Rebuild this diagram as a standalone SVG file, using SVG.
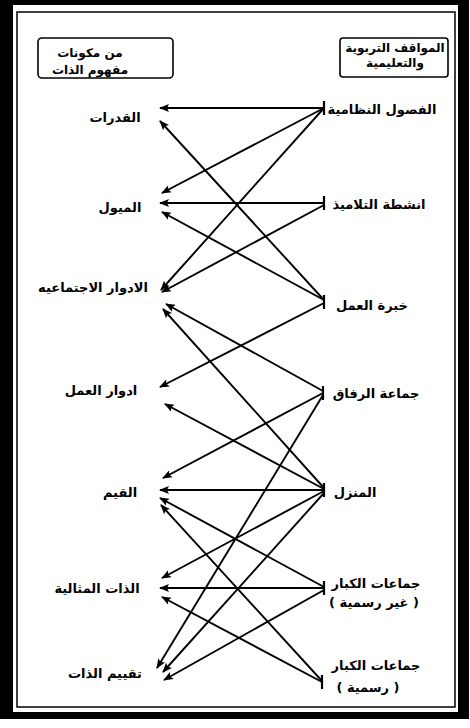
<svg xmlns="http://www.w3.org/2000/svg" width="470" height="728" viewBox="0 0 470 728">
<defs>
<marker id="ah" viewBox="0 0 10 8" refX="9" refY="4" markerWidth="5.5" markerHeight="4.2" orient="auto" markerUnits="strokeWidth">
<path d="M0,0 L10,4 L0,8 L2,4 z" fill="#000"/>
</marker>
<style>
.lbl{font-family:"DejaVu Sans",sans-serif;font-size:13px;font-weight:bold;fill:#000;text-anchor:middle;direction:rtl;unicode-bidi:embed}
.hdr{font-family:"DejaVu Sans",sans-serif;font-size:12px;font-weight:bold;fill:#000;text-anchor:middle;direction:rtl;unicode-bidi:embed}
.box{fill:#fff;stroke:#000;stroke-width:1.6}
.tick{stroke:#000;stroke-width:2.2}
#connectors line{stroke:#000;stroke-width:1.9;marker-end:url(#ah)}
</style>
</defs>
<rect x="0" y="0" width="470" height="728" fill="#fff"/>
<path d="M0,0 H469 V719 H0 Z M13,5 V712 H458 V5 Z" fill="#000" fill-rule="evenodd"/>
<rect x="17" y="12" width="438" height="695" fill="none" stroke="#000" stroke-width="1.5"/>

<g id="hdr-left">
<rect class="box" x="38" y="38" width="135" height="40" rx="4"/>
<text class="hdr" x="90" y="57">من مكونات</text>
<text class="hdr" x="90" y="74">مفهوم الذات</text>
</g>
<g id="hdr-right">
<rect class="box" x="340" y="38" width="108" height="39" rx="3"/>
<text class="hdr" x="395" y="52">المواقف التربوية</text>
<text class="hdr" x="395" y="67">والتعليمية</text>
</g>

<g id="connectors">
<line x1="324" y1="108" x2="160" y2="108"/>
<line x1="324" y1="108" x2="162" y2="193"/>
<line x1="324" y1="108" x2="161" y2="290"/>
<line x1="324" y1="203" x2="160" y2="203"/>
<line x1="324" y1="205" x2="162" y2="292"/>
<line x1="324" y1="300" x2="160" y2="121"/>
<line x1="324" y1="300" x2="162" y2="212"/>
<line x1="324" y1="303" x2="160" y2="387"/>
<line x1="323" y1="391" x2="166" y2="304"/>
<line x1="323" y1="393" x2="163" y2="478"/>
<line x1="323" y1="395" x2="157" y2="668"/>
<line x1="324" y1="488" x2="163" y2="309"/>
<line x1="324" y1="489" x2="165" y2="404"/>
<line x1="324" y1="490" x2="160" y2="490"/>
<line x1="324" y1="491" x2="162" y2="578"/>
<line x1="324" y1="493" x2="163" y2="672"/>
<line x1="324" y1="587" x2="160" y2="498"/>
<line x1="324" y1="588" x2="160" y2="588"/>
<line x1="324" y1="590" x2="164" y2="680"/>
<line x1="322" y1="681" x2="161" y2="505"/>
<line x1="322" y1="682" x2="162" y2="597"/>
</g>

<g id="r1"><line class="tick" x1="324" y1="101" x2="324" y2="115"/><text class="lbl" x="382" y="114">الفصول النظامية</text></g>
<g id="r2"><line class="tick" x1="324" y1="196" x2="324" y2="210"/><text class="lbl" x="379" y="209">انشطة التلاميذ</text></g>
<g id="r3"><line class="tick" x1="324" y1="295" x2="324" y2="309"/><text class="lbl" x="372" y="310">خبرة العمل</text></g>
<g id="r4"><line class="tick" x1="323" y1="386" x2="323" y2="400"/><text class="lbl" x="376" y="398">جماعة الرفاق</text></g>
<g id="r5"><line class="tick" x1="324" y1="483" x2="324" y2="497"/><text class="lbl" x="355" y="497">المنزل</text></g>
<g id="r6"><line class="tick" x1="324" y1="581" x2="324" y2="595"/><text class="lbl" x="376" y="588">جماعات الكبار</text><text class="lbl" x="374" y="607">( غير رسمية )</text></g>
<g id="r7"><line class="tick" x1="322" y1="675" x2="322" y2="689"/><text class="lbl" x="376" y="670">جماعات الكبار</text><text class="lbl" x="368" y="692">( رسمية )</text></g>

<g id="l1"><text class="lbl" x="115" y="122">القدرات</text></g>
<g id="l2"><text class="lbl" x="120" y="212">الميول</text></g>
<g id="l3"><text class="lbl" x="93" y="292">الادوار الاجتماعيه</text></g>
<g id="l4"><text class="lbl" x="101" y="395">ادوار العمل</text></g>
<g id="l5"><text class="lbl" x="120" y="497">القيم</text></g>
<g id="l6"><text class="lbl" x="97" y="593">الذات المثالية</text></g>
<g id="l7"><text class="lbl" x="105" y="678">تقييم الذات</text></g>
</svg>
